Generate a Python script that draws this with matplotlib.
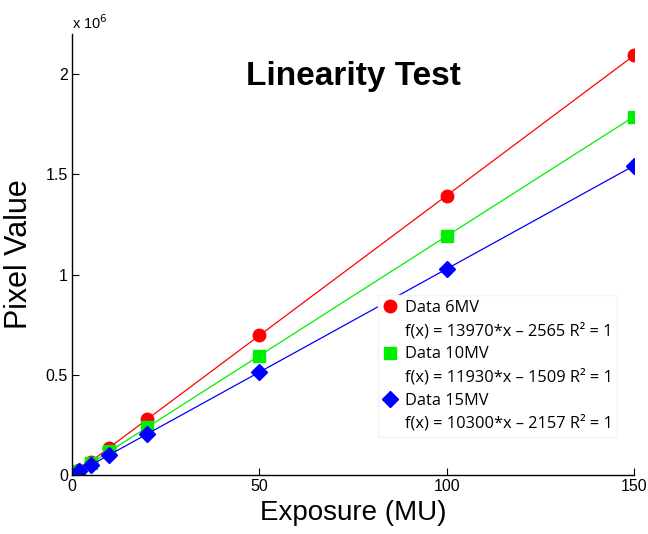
import matplotlib
matplotlib.use("Agg")
import matplotlib.pyplot as plt
from matplotlib.lines import Line2D

exposure = [2, 5, 10, 20, 50, 100, 150]
data_6mv = [0.0254e6, 0.0673e6, 0.137e6, 0.277e6, 0.696e6, 1.394e6, 2.093e6]
data_10mv = [0.0224e6, 0.0581e6, 0.118e6, 0.237e6, 0.595e6, 1.192e6, 1.788e6]
data_15mv = [0.0184e6, 0.0493e6, 0.101e6, 0.204e6, 0.513e6, 1.028e6, 1.543e6]
fit_labels = ["f(x) = 13970*x \u2013 2565 R\u00b2 = 1",
              "f(x) = 11930*x \u2013 1509 R\u00b2 = 1",
              "f(x) = 10300*x \u2013 2157 R\u00b2 = 1"]
series_names = ["Data 6MV", "Data 10MV", "Data 15MV"]
xticks = [0, 50, 100, 150]
yticks = [0, 0.5e6, 1e6, 1.5e6, 2e6]
ytick_labels = ["0", "0.5", "1", "1.5", "2"]

plt.rcParams['font.family'] = ['Liberation Sans', 'DejaVu Sans']

fig = plt.figure(figsize=(6.48, 5.34), dpi=100)
ax = fig.add_axes([72/648, 59/534, (634-72)/648, (475-34)/534])

colors = ["#ff0000", "#00ee00", "#0000ff"]
markers = ["o", "s", "D"]
msizes = [9, 8.5, 8]
for ys, c, m, ms in zip([data_6mv, data_10mv, data_15mv], colors, markers, msizes):
    ax.plot(exposure, ys, '-', color=c, lw=0.9)
    ax.plot(exposure, ys, m, color=c, ms=ms, mec=c)

ax.set_xlim(0, 150)
ax.set_ylim(0, 2.2e6)
ax.set_xticks(xticks)
ax.set_xticklabels([str(t) for t in xticks], fontsize=11.5)
ax.set_yticks(yticks)
ax.set_yticklabels(ytick_labels, fontsize=11.5)
ax.tick_params(direction='in', length=5, width=0.8, pad=3)
for s in ['top', 'right']:
    ax.spines[s].set_visible(False)
for s in ['left', 'bottom']:
    ax.spines[s].set_linewidth(1.0)

ax.text(0.0, 1.005, r"x 10$^{6}$", transform=ax.transAxes, fontsize=10.5, ha='left', va='bottom')

ax.set_xlabel("Exposure (MU)", fontsize=20, labelpad=4)
ax.set_ylabel("Pixel Value", fontsize=22, labelpad=8)

ax.text(0.5, 0.903, "Linearity Test", transform=ax.transAxes, fontsize=24,
        fontweight='bold', ha='center', va='center')

handles = []
labels = []
for c, m, ms, name, fl in zip(colors, markers, msizes, series_names, fit_labels):
    handles.append(Line2D([], [], ls='none', marker=m, color=c, mec=c, ms=ms))
    labels.append(name)
    handles.append(Line2D([], [], ls='none'))
    labels.append(fl)
leg = ax.legend(handles, labels, loc='lower right', bbox_to_anchor=(0.985, 0.068),
                frameon=True, fancybox=False, edgecolor='#f4f4f4', framealpha=1,
                prop={'family': 'Open Sans', 'size': 11.8}, handlelength=0.9,
                handletextpad=0.45, labelspacing=0.42, borderpad=0.3)

fig.savefig("out.png", dpi=100)
